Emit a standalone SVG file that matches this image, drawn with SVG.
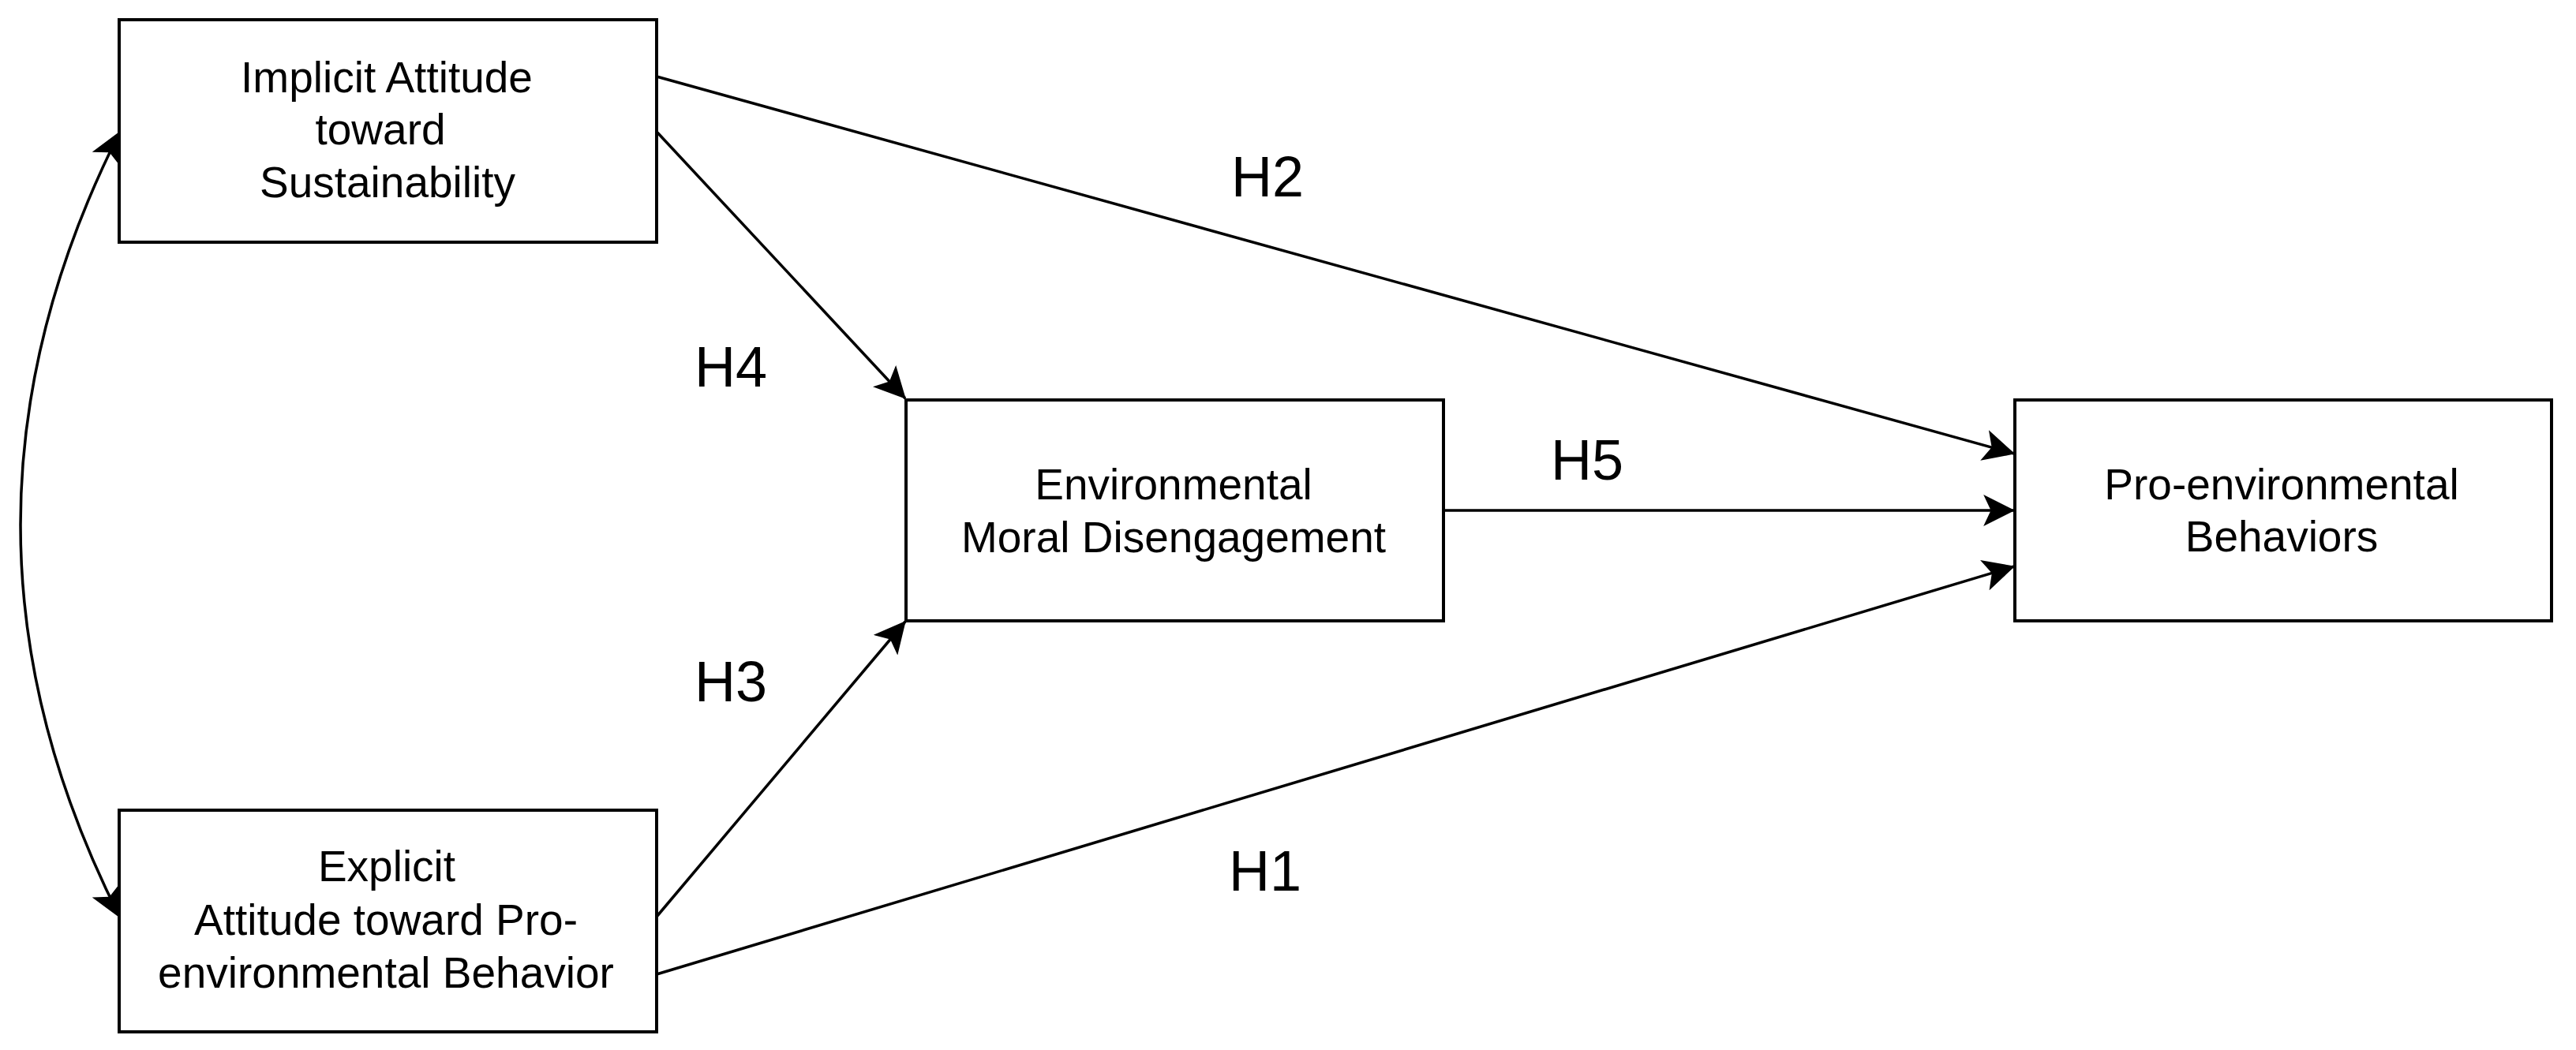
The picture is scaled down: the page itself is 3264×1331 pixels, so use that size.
<svg xmlns="http://www.w3.org/2000/svg" width="3264" height="1331" viewBox="0 0 3264 1331">
<defs>
<style>
.box{fill:#ffffff;stroke:#000000;stroke-width:4}
.t{font-family:"Liberation Sans",Arial,sans-serif;font-size:55px;fill:#000000;text-anchor:middle}
.lbl{font-family:"Liberation Sans",Arial,sans-serif;font-size:72px;fill:#000000;text-anchor:middle}
.c{fill:none;stroke:#000000;stroke-width:3.5}
</style>
<marker id="ah" markerUnits="userSpaceOnUse" markerWidth="40" markerHeight="40" viewBox="0 0 34 34" refX="33" refY="17" orient="auto-start-reverse">
<path d="M0,0 L34,17 L0,34 L8,17 Z" fill="#000000"/>
</marker>
</defs>
<rect width="3264" height="1331" fill="#ffffff"/>
<g id="connectors">
<path class="c" d="M152,167 Q-100,666 152,1163" marker-start="url(#ah)" marker-end="url(#ah)"/>
<line class="c" x1="832" y1="97" x2="2552" y2="575" marker-end="url(#ah)"/>
<line class="c" x1="833" y1="168" x2="1147" y2="505" marker-end="url(#ah)"/>
<line class="c" x1="832" y1="1162" x2="1147" y2="788" marker-end="url(#ah)"/>
<line class="c" x1="832" y1="1235" x2="2552" y2="718" marker-end="url(#ah)"/>
<line class="c" x1="1829" y1="647" x2="2552" y2="647" marker-end="url(#ah)"/>
<text class="lbl" x="1606" y="249">H2</text>
<text class="lbl" x="926" y="490">H4</text>
<text class="lbl" x="2011" y="608">H5</text>
<text class="lbl" x="926" y="889">H3</text>
<text class="lbl" x="1603" y="1129">H1</text>
</g>
<g id="implicit">
<rect class="box" x="151" y="25" width="681" height="282"/>
<text class="t" x="490" y="117">Implicit Attitude</text>
<text class="t" x="482" y="183">toward</text>
<text class="t" x="491" y="250">Sustainability</text>
</g>
<g id="explicit">
<rect class="box" x="151" y="1027" width="681" height="281"/>
<text class="t" x="490" y="1117">Explicit</text>
<text class="t" x="489" y="1185">Attitude toward Pro-</text>
<text class="t" x="489" y="1252">environmental Behavior</text>
</g>
<g id="moral">
<rect class="box" x="1148" y="507" width="681" height="280"/>
<text class="t" x="1487" y="633">Environmental</text>
<text class="t" x="1487" y="700">Moral Disengagement</text>
</g>
<g id="behaviors">
<rect class="box" x="2553" y="507" width="680" height="280"/>
<text class="t" x="2891" y="633">Pro-environmental</text>
<text class="t" x="2891" y="699">Behaviors</text>
</g>
</svg>
